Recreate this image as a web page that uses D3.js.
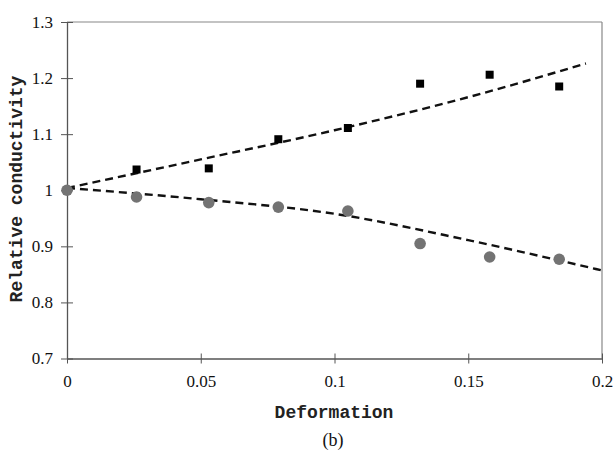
<!DOCTYPE html>
<html>
<head>
<meta charset="utf-8">
<script src="https://cdn.jsdelivr.net/npm/d3@7"></script>
<style>
	body { margin: 0; background: #fff; }
</style>
</head>
<body>
<script>
// data
const squareX = [0, 0.026, 0.053, 0.079, 0.105, 0.132, 0.158, 0.184];
const squareY = [1.0, 1.037, 1.039, 1.091, 1.111, 1.19, 1.206, 1.185];
const circleX = [0, 0.026, 0.053, 0.079, 0.105, 0.132, 0.158, 0.184];
const circleY = [1.0, 0.988, 0.978, 0.97, 0.963, 0.905, 0.881, 0.877];

// dashed trend lines
const upperFitX = [0, 0.05, 0.1, 0.15, 0.194];
const upperFitY = [1.004, 1.055, 1.107, 1.166, 1.226];
const lowerFitX = [0, 0.05, 0.1, 0.15, 0.2];
const lowerFitY = [1.004, 0.984, 0.958, 0.911, 0.857];

const xTicks = [0, 0.05, 0.1, 0.15, 0.2];
const yTicks = [0.7, 0.8, 0.9, 1, 1.1, 1.2, 1.3];

const w = 614;
const h = 457;

// plot area
const pLeft = 67, pRight = 602, pTop = 22, pBottom = 358.5;

const serif = "'Liberation Serif', 'Times New Roman', Times, serif";
const mono = "'Liberation Mono', 'Courier New', Courier, monospace";

const xScale = d3.scaleLinear().domain([0, 0.2]).range([pLeft, pRight]);
const yScale = d3.scaleLinear().domain([0.7, 1.3]).range([pBottom, pTop]);

const svg = d3.select("body")
	.append("svg")
	.attr("width", w)
	.attr("height", h);

// top and right frame lines
svg.append("line")
	.attr("x1", pLeft).attr("x2", pRight)
	.attr("y1", pTop).attr("y2", pTop)
	.attr("stroke", "#888").attr("stroke-width", 1.2);
svg.append("line")
	.attr("x1", pRight).attr("x2", pRight)
	.attr("y1", pTop).attr("y2", pBottom)
	.attr("stroke", "#888").attr("stroke-width", 1.2);

// axes with ticks that cross the axis line
const xAxis = d3.axisBottom(xScale)
	.tickValues(xTicks)
	.tickSize(0)
	.tickFormat((d) => d3.format("")(d));

const gx = svg.append("g")
	.attr("transform", "translate(0," + pBottom + ")")
	.call(xAxis);
gx.select(".domain").attr("stroke", "#555").attr("stroke-width", 1.3);
gx.selectAll(".tick line").attr("y1", -5).attr("y2", 5).attr("stroke", "#555");
gx.selectAll(".tick text")
	.attr("y", 16)
	.attr("dy", "0.71em")
	.style("font-family", serif)
	.style("font-size", "17px")
	.attr("fill", "#111");

const yAxis = d3.axisLeft(yScale)
	.tickValues(yTicks)
	.tickSize(0)
	.tickFormat((d) => d3.format("")(+d.toFixed(1)));

const gy = svg.append("g")
	.attr("transform", "translate(" + pLeft + ",0)")
	.call(yAxis);
gy.select(".domain").attr("stroke", "#555").attr("stroke-width", 1.3);
gy.selectAll(".tick line").attr("x1", -6).attr("x2", 6).attr("stroke", "#555");
gy.selectAll(".tick text")
	.attr("x", -14)
	.style("font-family", serif)
	.style("font-size", "17px")
	.attr("fill", "#111");

// dashed fit lines
const line = d3.line()
	.x((d) => xScale(d[0]))
	.y((d) => yScale(d[1]))
	.curve(d3.curveMonotoneX);

svg.append("path")
	.datum(upperFitX.map((x, i) => [x, upperFitY[i]]))
	.attr("d", line)
	.attr("fill", "none")
	.attr("stroke", "#111")
	.attr("stroke-width", 2.4)
	.attr("stroke-dasharray", "8,5");

svg.append("path")
	.datum(lowerFitX.map((x, i) => [x, lowerFitY[i]]))
	.attr("d", line)
	.attr("fill", "none")
	.attr("stroke", "#111")
	.attr("stroke-width", 2.4)
	.attr("stroke-dasharray", "8,5");

// square markers
svg.selectAll("rect.sq")
	.data(squareX.map((x, i) => [x, squareY[i]]))
	.enter()
	.append("rect")
	.attr("class", "sq")
	.attr("x", (d) => xScale(d[0]) - 4)
	.attr("y", (d) => yScale(d[1]) - 4)
	.attr("width", 8)
	.attr("height", 8)
	.attr("fill", "#000");

// circle markers
svg.selectAll("circle.ci")
	.data(circleX.map((x, i) => [x, circleY[i]]))
	.enter()
	.append("circle")
	.attr("class", "ci")
	.attr("cx", (d) => xScale(d[0]))
	.attr("cy", (d) => yScale(d[1]))
	.attr("r", 5.8)
	.attr("fill", "#737373");

// axis titles
svg.append("text")
	.text("Deformation")
	.attr("x", 334)
	.attr("y", 418)
	.attr("text-anchor", "middle")
	.style("font-family", mono)
	.style("font-weight", "bold")
	.style("font-size", "18px")
	.attr("fill", "#222");

svg.append("text")
	.text("Relative conductivity")
	.attr("transform", "translate(22,189) rotate(-90)")
	.attr("text-anchor", "middle")
	.style("font-family", mono)
	.style("font-weight", "bold")
	.style("font-size", "18px")
	.attr("fill", "#222");

svg.append("text")
	.text("(b)")
	.attr("x", 333)
	.attr("y", 446)
	.attr("text-anchor", "middle")
	.style("font-family", serif)
	.style("font-size", "18px")
	.attr("fill", "#111");
</script>
</body>
</html>
